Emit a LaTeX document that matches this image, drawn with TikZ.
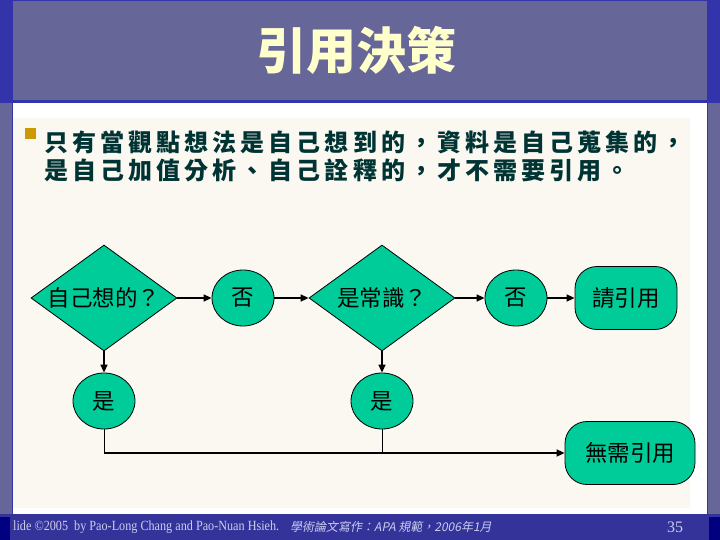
\documentclass[tikz,border=0pt]{standalone}
\usepackage{fontspec}
\usetikzlibrary{shapes.geometric,arrows.meta}
\setmainfont{Liberation Serif}
\newfontfamily\cjk{Noto Sans CJK TC}
\newfontfamily\cjksp[LetterSpace=17]{Noto Sans CJK TC}
\newfontfamily\cjkit[FakeSlant=0.2]{Noto Sans CJK TC}
\definecolor{bandblue}{HTML}{666699}
\definecolor{edgeblue}{HTML}{3333AA}
\definecolor{footblue}{HTML}{333399}
\definecolor{navy}{HTML}{000080}
\definecolor{cream}{HTML}{FAF8F0}
\definecolor{titleyellow}{HTML}{FFFFCC}
\definecolor{bodyteal}{HTML}{003333}
\definecolor{bulletgold}{HTML}{CC9900}
\definecolor{shapegreen}{HTML}{00CC99}
\definecolor{foottext}{HTML}{CCCCF0}
\begin{document}
\begin{tikzpicture}[x=1pt,y=-1pt,
  shp/.style={draw=black, line width=0.8pt, fill=shapegreen, inner sep=0pt},
  lbl/.style={font=\cjk\fontsize{22.5}{26}\selectfont, text=black},
  dec/.style={shp, diamond, minimum width=146pt, minimum height=106pt},
  ell/.style={shp, ellipse, minimum width=62pt, minimum height=56pt, lbl},
  term/.style={shp, rounded corners=22pt, minimum height=63pt, lbl},
  arr/.style={line width=1.6pt, -{Triangle[length=8pt,width=7pt]}},
  thinline/.style={line width=1pt},
  bodytext/.style={anchor=west, inner sep=0pt, text=bodyteal, font=\cjksp\bfseries\fontsize{24}{28}\selectfont}
]
\useasboundingbox (0,0) rectangle (720,540);
% frame
\fill[edgeblue] (0,0) rectangle (720,540);
\fill[bandblue] (13,1) rectangle (707,100);
\fill[bandblue] (0,103) rectangle (12,514);
\fill[bandblue] (708,103) rectangle (720,514);
\fill[white] (13,103) rectangle (707,514);
\fill[cream] (13,118) rectangle (690,508);
\fill[footblue] (0,514) rectangle (720,540);
\fill[navy] (0,517) rectangle (10,540);
\fill[navy] (709,517) rectangle (720,540);
% title
\node[text=titleyellow, font=\cjk\bfseries\fontsize{50}{56}\selectfont] (title) at (356,50) {引用決策};
% bullet
\fill[bulletgold] (25,128) rectangle (36,139);
\node[bodytext] (t1) at (44,142) {只有當觀點想法是自己想到的，資料是自己蒐集的，};
\node[bodytext] (t2) at (44,170) {是自己加值分析、自己詮釋的，才不需要引用。};
% flowchart
\node[dec, label={[lbl]center:自己想的？}] (d1) at (104,298) {};
\node[ell] (c1) at (243,298) {否};
\node[dec, label={[lbl]center:是常識？}] (d2) at (382,298) {};
\node[ell] (c2) at (516,298) {否};
\node[term, minimum width=102pt] (r1) at (626,298) {請引用};
\node[ell] (y1) at (104,401) {是};
\node[ell] (y2) at (382,401) {是};
\node[term, minimum width=130pt] (r2) at (630,453) {無需引用};
\draw[arr] (d1.east) -- (c1.west);
\draw[arr] (c1.east) -- (d2.west);
\draw[arr] (d2.east) -- (c2.west);
\draw[arr] (c2.east) -- (r1.west);
\draw[arr] (d1.south) -- (y1.north);
\draw[arr] (d2.south) -- (y2.north);
\draw[thinline] (y1.south) -- (y1.south |- r2.west);
\draw[thinline] (y2.south) -- (y2.south |- r2.west);
\draw[arr] (y1.south |- r2.west) -- (r2.west);
% footer
\node[anchor=west, inner sep=0pt, text=foottext, font=\fontsize{14}{16}\selectfont] (f1) at (13,527) {\scalebox{0.87}[1]{lide ©2005\ \ by Pao-Long Chang and Pao-Nuan Hsieh.}};
\node[anchor=west, inner sep=0pt, text=foottext, font=\cjkit\fontsize{12}{14}\selectfont] (f2) at (290,527) {學術論文寫作：APA 規範，2006年1月};
\node[text=foottext, font=\fontsize{16}{18}\selectfont] (pg) at (675,527) {35};
\end{tikzpicture}
\end{document}
